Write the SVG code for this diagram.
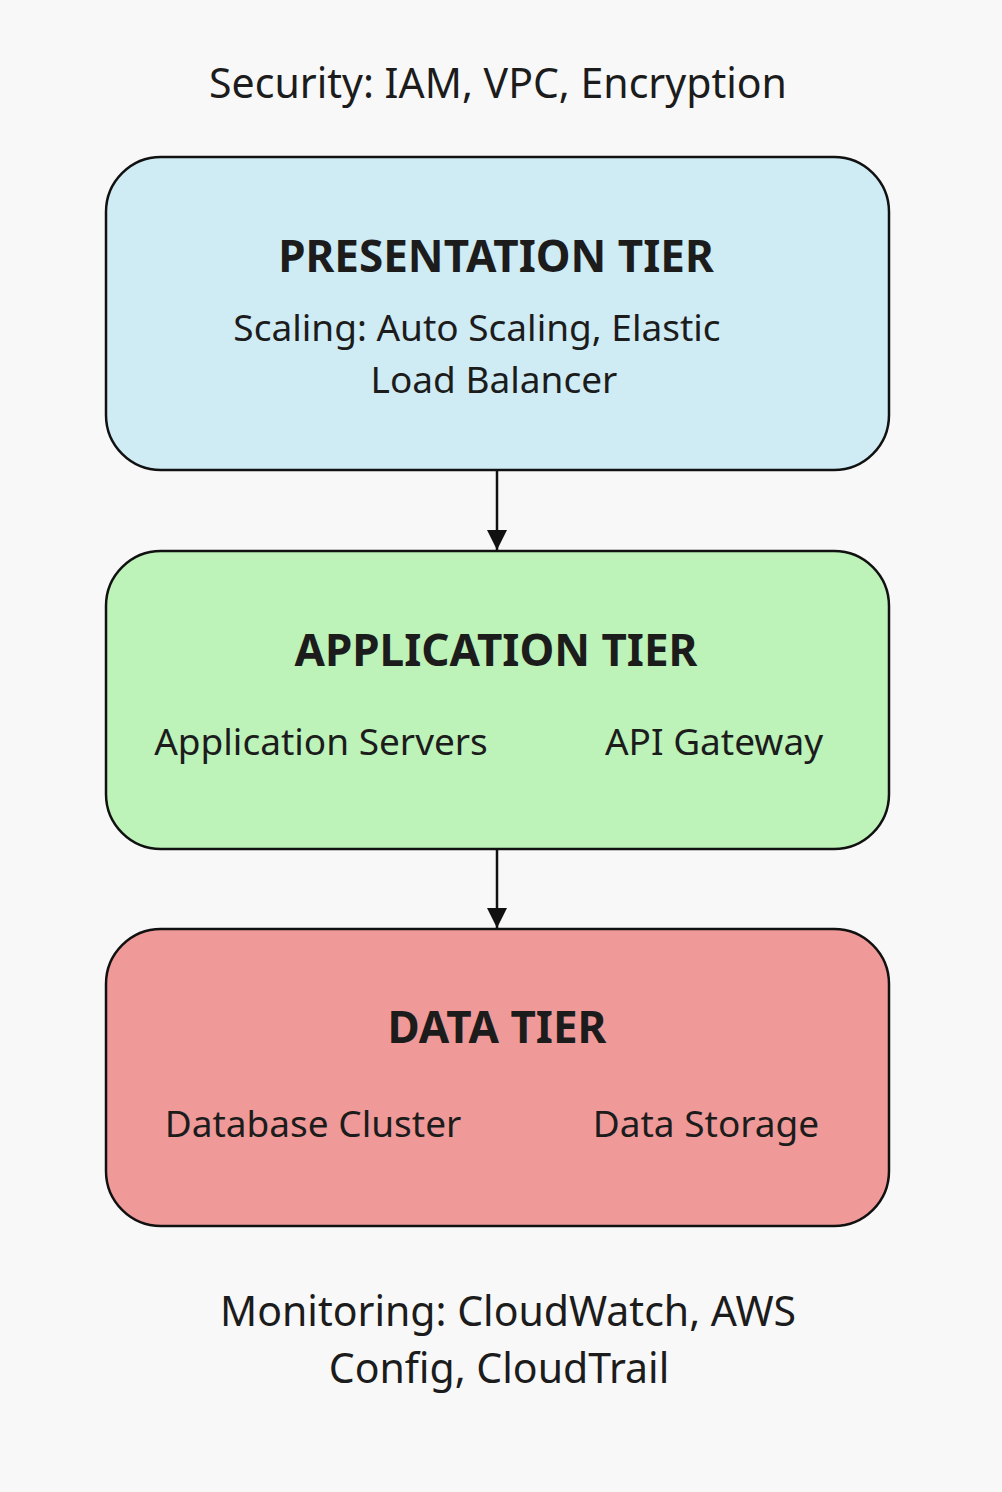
<svg xmlns="http://www.w3.org/2000/svg" width="1002" height="1492" viewBox="0 0 1002 1492">
<style>
.t{font-family:"Noto Sans","Open Sans",sans-serif;fill:#1c1c1c;text-anchor:middle}
.lbl{font-size:37px}
.ttl{font-size:44px;font-weight:bold}
.cap{font-size:41px}
.box{stroke:#111;stroke-width:2.5}
.conn{stroke:#111;stroke-width:2.5;fill:none}
</style>
<defs>
<marker id="ah" markerWidth="20" markerHeight="20" refX="20" refY="10" orient="auto" markerUnits="userSpaceOnUse" viewBox="0 0 20 20">
<path d="M0,0 L20,10 L0,20 z" fill="#111"/>
</marker>
</defs>
<rect width="1002" height="1492" fill="#f8f8f8"/>
<g id="security"><text class="t cap" x="498" y="98">Security: IAM, VPC, Encryption</text></g>
<g id="presentation">
<rect class="box" x="106" y="157" width="783" height="313" rx="55" fill="#cfebf4"/>
<text class="t ttl" x="496" y="272">PRESENTATION TIER</text>
<text class="t lbl" x="477" y="341">Scaling: Auto Scaling, Elastic</text>
<text class="t lbl" x="494" y="393">Load Balancer</text>
</g>
<g id="application">
<rect class="box" x="106" y="551" width="783" height="298" rx="55" fill="#bdf2b8"/>
<text class="t ttl" x="496" y="666">APPLICATION TIER</text>
<text class="t lbl" x="321" y="755">Application Servers</text>
<text class="t lbl" x="714" y="755">API Gateway</text>
</g>
<g id="data">
<rect class="box" x="106" y="929" width="783" height="297" rx="55" fill="#ef9a98"/>
<text class="t ttl" x="497" y="1043">DATA TIER</text>
<text class="t lbl" x="313" y="1137">Database Cluster</text>
<text class="t lbl" x="706" y="1137">Data Storage</text>
</g>
<g id="monitoring">
<text class="t cap" x="508" y="1326">Monitoring: CloudWatch, AWS</text>
<text class="t cap" x="499" y="1383">Config, CloudTrail</text>
</g>
<g id="connectors">
<line class="conn" x1="497" y1="470" x2="497" y2="550" style="marker-end:url(#ah)"/>
<line class="conn" x1="497" y1="849" x2="497" y2="928" style="marker-end:url(#ah)"/>
</g>
</svg>
